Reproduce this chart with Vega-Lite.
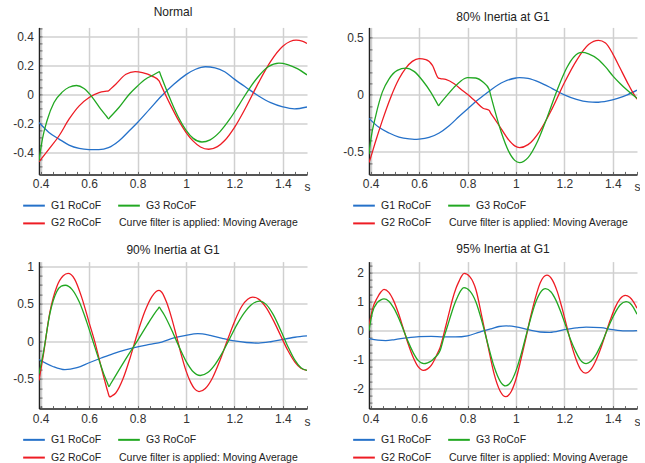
{
"$schema": "https://vega.github.io/schema/vega-lite/v6.json",
"padding": {"left": 12, "top": 5.4, "right": 0, "bottom": 0},
"config": {
 "font": "Liberation Sans",
 "view": {"stroke": null},
 "axis": {"labelFontSize": 12, "labelColor": "#333", "gridColor": "#d0d0d0", "gridWidth": 1.5, "tickColor": "#666", "tickWidth": 1, "tickSize": -3, "labelFlush": false, "labelOverlap": false, "titleFontWeight": "normal", "titleFontSize": 12, "titleColor": "#333"},
 "axisX": {"domainColor": "#555", "domainWidth": 2, "labelPadding": 16.5, "labelBaseline": "alphabetic"},
 "axisY": {"domainColor": "#222", "domainWidth": 1.5, "labelPadding": 8.7},
 "title": {"fontSize": 12, "fontWeight": "normal", "color": "#222", "offset": 3.5, "baseline": "alphabetic"}
},
"datasets": {"d": [
{"p":"N","s":"G1","t":0.393,"v":-0.195},{"p":"N","s":"G1","t":0.434,"v":-0.263},{"p":"N","s":"G1","t":0.476,"v":-0.309},{"p":"N","s":"G1","t":0.517,"v":-0.35},{"p":"N","s":"G1","t":0.559,"v":-0.373},{"p":"N","s":"G1","t":0.6,"v":-0.381},{"p":"N","s":"G1","t":0.64,"v":-0.382},{"p":"N","s":"G1","t":0.68,"v":-0.368},{"p":"N","s":"G1","t":0.724,"v":-0.32},{"p":"N","s":"G1","t":0.766,"v":-0.252},{"p":"N","s":"G1","t":0.8,"v":-0.195},{"p":"N","s":"G1","t":0.85,"v":-0.103},{"p":"N","s":"G1","t":0.9,"v":-0.011},{"p":"N","s":"G1","t":0.95,"v":0.068},{"p":"N","s":"G1","t":1,"v":0.135},{"p":"N","s":"G1","t":1.04,"v":0.172},{"p":"N","s":"G1","t":1.08,"v":0.189},{"p":"N","s":"G1","t":1.12,"v":0.182},{"p":"N","s":"G1","t":1.16,"v":0.155},{"p":"N","s":"G1","t":1.2,"v":0.104},{"p":"N","s":"G1","t":1.25,"v":0.045},{"p":"N","s":"G1","t":1.3,"v":-0.012},{"p":"N","s":"G1","t":1.35,"v":-0.058},{"p":"N","s":"G1","t":1.4,"v":-0.087},{"p":"N","s":"G1","t":1.448,"v":-0.101},{"p":"N","s":"G1","t":1.5,"v":-0.088},
{"p":"N","s":"G2","t":0.393,"v":-0.465},{"p":"N","s":"G2","t":0.434,"v":-0.378},{"p":"N","s":"G2","t":0.476,"v":-0.286},{"p":"N","s":"G2","t":0.517,"v":-0.172},{"p":"N","s":"G2","t":0.559,"v":-0.08},{"p":"N","s":"G2","t":0.6,"v":-0.023},{"p":"N","s":"G2","t":0.641,"v":0.011},{"p":"N","s":"G2","t":0.672,"v":0.021},{"p":"N","s":"G2","t":0.68,"v":0.023},{"p":"N","s":"G2","t":0.688,"v":0.035},{"p":"N","s":"G2","t":0.71,"v":0.069},{"p":"N","s":"G2","t":0.752,"v":0.137},{"p":"N","s":"G2","t":0.79,"v":0.156},{"p":"N","s":"G2","t":0.82,"v":0.149},{"p":"N","s":"G2","t":0.86,"v":0.125},{"p":"N","s":"G2","t":0.889,"v":0.092},{"p":"N","s":"G2","t":0.895,"v":0.07},{"p":"N","s":"G2","t":0.912,"v":0.009},{"p":"N","s":"G2","t":0.94,"v":-0.087},{"p":"N","s":"G2","t":0.97,"v":-0.182},{"p":"N","s":"G2","t":1,"v":-0.262},{"p":"N","s":"G2","t":1.03,"v":-0.323},{"p":"N","s":"G2","t":1.06,"v":-0.363},{"p":"N","s":"G2","t":1.094,"v":-0.379},{"p":"N","s":"G2","t":1.13,"v":-0.361},{"p":"N","s":"G2","t":1.16,"v":-0.319},{"p":"N","s":"G2","t":1.2,"v":-0.23},{"p":"N","s":"G2","t":1.25,"v":-0.083},{"p":"N","s":"G2","t":1.3,"v":0.08},{"p":"N","s":"G2","t":1.35,"v":0.226},{"p":"N","s":"G2","t":1.4,"v":0.33},{"p":"N","s":"G2","t":1.43,"v":0.363},{"p":"N","s":"G2","t":1.455,"v":0.372},{"p":"N","s":"G2","t":1.48,"v":0.366},{"p":"N","s":"G2","t":1.5,"v":0.349},
{"p":"N","s":"G3","t":0.393,"v":-0.458},{"p":"N","s":"G3","t":0.407,"v":-0.309},{"p":"N","s":"G3","t":0.428,"v":-0.172},{"p":"N","s":"G3","t":0.455,"v":-0.057},{"p":"N","s":"G3","t":0.49,"v":0.016},{"p":"N","s":"G3","t":0.517,"v":0.048},{"p":"N","s":"G3","t":0.548,"v":0.06},{"p":"N","s":"G3","t":0.579,"v":0.039},{"p":"N","s":"G3","t":0.614,"v":-0.023},{"p":"N","s":"G3","t":0.648,"v":-0.103},{"p":"N","s":"G3","t":0.674,"v":-0.157},{"p":"N","s":"G3","t":0.68,"v":-0.17},{"p":"N","s":"G3","t":0.686,"v":-0.159},{"p":"N","s":"G3","t":0.724,"v":-0.09},{"p":"N","s":"G3","t":0.766,"v":0},{"p":"N","s":"G3","t":0.8,"v":0.057},{"p":"N","s":"G3","t":0.834,"v":0.105},{"p":"N","s":"G3","t":0.865,"v":0.132},{"p":"N","s":"G3","t":0.885,"v":0.151},{"p":"N","s":"G3","t":0.89,"v":0.156},{"p":"N","s":"G3","t":0.895,"v":0.134},{"p":"N","s":"G3","t":0.912,"v":0.061},{"p":"N","s":"G3","t":0.94,"v":-0.053},{"p":"N","s":"G3","t":0.97,"v":-0.162},{"p":"N","s":"G3","t":1,"v":-0.247},{"p":"N","s":"G3","t":1.03,"v":-0.304},{"p":"N","s":"G3","t":1.066,"v":-0.329},{"p":"N","s":"G3","t":1.1,"v":-0.314},{"p":"N","s":"G3","t":1.14,"v":-0.259},{"p":"N","s":"G3","t":1.18,"v":-0.174},{"p":"N","s":"G3","t":1.22,"v":-0.071},{"p":"N","s":"G3","t":1.26,"v":0.034},{"p":"N","s":"G3","t":1.3,"v":0.124},{"p":"N","s":"G3","t":1.34,"v":0.189},{"p":"N","s":"G3","t":1.384,"v":0.214},{"p":"N","s":"G3","t":1.42,"v":0.204},{"p":"N","s":"G3","t":1.46,"v":0.176},{"p":"N","s":"G3","t":1.5,"v":0.133},
{"p":"E","s":"G1","t":0.393,"v":-0.206},{"p":"E","s":"G1","t":0.434,"v":-0.285},{"p":"E","s":"G1","t":0.476,"v":-0.335},{"p":"E","s":"G1","t":0.517,"v":-0.371},{"p":"E","s":"G1","t":0.559,"v":-0.387},{"p":"E","s":"G1","t":0.58,"v":-0.39},{"p":"E","s":"G1","t":0.6,"v":-0.388},{"p":"E","s":"G1","t":0.641,"v":-0.374},{"p":"E","s":"G1","t":0.683,"v":-0.335},{"p":"E","s":"G1","t":0.724,"v":-0.271},{"p":"E","s":"G1","t":0.766,"v":-0.188},{"p":"E","s":"G1","t":0.8,"v":-0.124},{"p":"E","s":"G1","t":0.834,"v":-0.059},{"p":"E","s":"G1","t":0.87,"v":0},{"p":"E","s":"G1","t":0.9,"v":0.05},{"p":"E","s":"G1","t":0.95,"v":0.115},{"p":"E","s":"G1","t":1,"v":0.148},{"p":"E","s":"G1","t":1.015,"v":0.152},{"p":"E","s":"G1","t":1.05,"v":0.145},{"p":"E","s":"G1","t":1.1,"v":0.108},{"p":"E","s":"G1","t":1.15,"v":0.055},{"p":"E","s":"G1","t":1.2,"v":0},{"p":"E","s":"G1","t":1.25,"v":-0.04},{"p":"E","s":"G1","t":1.3,"v":-0.062},{"p":"E","s":"G1","t":1.331,"v":-0.065},{"p":"E","s":"G1","t":1.38,"v":-0.052},{"p":"E","s":"G1","t":1.42,"v":-0.03},{"p":"E","s":"G1","t":1.46,"v":0},{"p":"E","s":"G1","t":1.5,"v":0.041},
{"p":"E","s":"G2","t":0.393,"v":-0.594},{"p":"E","s":"G2","t":0.4,"v":-0.55},{"p":"E","s":"G2","t":0.421,"v":-0.403},{"p":"E","s":"G2","t":0.448,"v":-0.226},{"p":"E","s":"G2","t":0.483,"v":-0.02},{"p":"E","s":"G2","t":0.517,"v":0.141},{"p":"E","s":"G2","t":0.545,"v":0.235},{"p":"E","s":"G2","t":0.572,"v":0.294},{"p":"E","s":"G2","t":0.6,"v":0.318},{"p":"E","s":"G2","t":0.628,"v":0.309},{"p":"E","s":"G2","t":0.655,"v":0.259},{"p":"E","s":"G2","t":0.68,"v":0.147},{"p":"E","s":"G2","t":0.688,"v":0.143},{"p":"E","s":"G2","t":0.71,"v":0.135},{"p":"E","s":"G2","t":0.745,"v":0.097},{"p":"E","s":"G2","t":0.779,"v":0.038},{"p":"E","s":"G2","t":0.814,"v":-0.02},{"p":"E","s":"G2","t":0.834,"v":-0.059},{"p":"E","s":"G2","t":0.864,"v":-0.117},{"p":"E","s":"G2","t":0.889,"v":-0.135},{"p":"E","s":"G2","t":0.895,"v":-0.158},{"p":"E","s":"G2","t":0.91,"v":-0.205},{"p":"E","s":"G2","t":0.94,"v":-0.3},{"p":"E","s":"G2","t":0.97,"v":-0.395},{"p":"E","s":"G2","t":0.995,"v":-0.448},{"p":"E","s":"G2","t":1.015,"v":-0.463},{"p":"E","s":"G2","t":1.05,"v":-0.437},{"p":"E","s":"G2","t":1.1,"v":-0.313},{"p":"E","s":"G2","t":1.15,"v":-0.119},{"p":"E","s":"G2","t":1.2,"v":0.106},{"p":"E","s":"G2","t":1.25,"v":0.301},{"p":"E","s":"G2","t":1.3,"v":0.441},{"p":"E","s":"G2","t":1.341,"v":0.478},{"p":"E","s":"G2","t":1.37,"v":0.455},{"p":"E","s":"G2","t":1.4,"v":0.36},{"p":"E","s":"G2","t":1.43,"v":0.235},{"p":"E","s":"G2","t":1.46,"v":0.11},{"p":"E","s":"G2","t":1.48,"v":0.03},{"p":"E","s":"G2","t":1.5,"v":-0.038},
{"p":"E","s":"G3","t":0.393,"v":-0.52},{"p":"E","s":"G3","t":0.4,"v":-0.4},{"p":"E","s":"G3","t":0.421,"v":-0.182},{"p":"E","s":"G3","t":0.448,"v":0.024},{"p":"E","s":"G3","t":0.476,"v":0.141},{"p":"E","s":"G3","t":0.51,"v":0.215},{"p":"E","s":"G3","t":0.545,"v":0.235},{"p":"E","s":"G3","t":0.579,"v":0.206},{"p":"E","s":"G3","t":0.614,"v":0.126},{"p":"E","s":"G3","t":0.648,"v":0.024},{"p":"E","s":"G3","t":0.674,"v":-0.072},{"p":"E","s":"G3","t":0.68,"v":-0.094},{"p":"E","s":"G3","t":0.686,"v":-0.079},{"p":"E","s":"G3","t":0.717,"v":0},{"p":"E","s":"G3","t":0.752,"v":0.082},{"p":"E","s":"G3","t":0.786,"v":0.141},{"p":"E","s":"G3","t":0.8,"v":0.152},{"p":"E","s":"G3","t":0.834,"v":0.148},{"p":"E","s":"G3","t":0.865,"v":0.11},{"p":"E","s":"G3","t":0.889,"v":0.05},{"p":"E","s":"G3","t":0.895,"v":0.002},{"p":"E","s":"G3","t":0.91,"v":-0.117},{"p":"E","s":"G3","t":0.94,"v":-0.333},{"p":"E","s":"G3","t":0.97,"v":-0.496},{"p":"E","s":"G3","t":0.995,"v":-0.575},{"p":"E","s":"G3","t":1.015,"v":-0.595},{"p":"E","s":"G3","t":1.05,"v":-0.551},{"p":"E","s":"G3","t":1.09,"v":-0.405},{"p":"E","s":"G3","t":1.13,"v":-0.191},{"p":"E","s":"G3","t":1.17,"v":0.041},{"p":"E","s":"G3","t":1.21,"v":0.238},{"p":"E","s":"G3","t":1.24,"v":0.335},{"p":"E","s":"G3","t":1.272,"v":0.372},{"p":"E","s":"G3","t":1.3,"v":0.36},{"p":"E","s":"G3","t":1.34,"v":0.31},{"p":"E","s":"G3","t":1.37,"v":0.245},{"p":"E","s":"G3","t":1.4,"v":0.167},{"p":"E","s":"G3","t":1.43,"v":0.1},{"p":"E","s":"G3","t":1.46,"v":0.04},{"p":"E","s":"G3","t":1.5,"v":-0.03},
{"p":"F","s":"G1","t":0.393,"v":-0.243},{"p":"F","s":"G1","t":0.45,"v":-0.335},{"p":"F","s":"G1","t":0.5,"v":-0.378},{"p":"F","s":"G1","t":0.55,"v":-0.35},{"p":"F","s":"G1","t":0.6,"v":-0.285},{"p":"F","s":"G1","t":0.65,"v":-0.222},{"p":"F","s":"G1","t":0.7,"v":-0.162},{"p":"F","s":"G1","t":0.75,"v":-0.112},{"p":"F","s":"G1","t":0.8,"v":-0.072},{"p":"F","s":"G1","t":0.85,"v":-0.04},{"p":"F","s":"G1","t":0.9,"v":-0.009},{"p":"F","s":"G1","t":0.95,"v":0.045},{"p":"F","s":"G1","t":1,"v":0.081},{"p":"F","s":"G1","t":1.049,"v":0.104},{"p":"F","s":"G1","t":1.1,"v":0.081},{"p":"F","s":"G1","t":1.15,"v":0.04},{"p":"F","s":"G1","t":1.2,"v":0.005},{"p":"F","s":"G1","t":1.25,"v":-0.015},{"p":"F","s":"G1","t":1.3,"v":-0.023},{"p":"F","s":"G1","t":1.35,"v":-0.005},{"p":"F","s":"G1","t":1.4,"v":0.027},{"p":"F","s":"G1","t":1.45,"v":0.055},{"p":"F","s":"G1","t":1.5,"v":0.072},
{"p":"F","s":"G2","t":0.393,"v":-0.52},{"p":"F","s":"G2","t":0.41,"v":-0.2},{"p":"F","s":"G2","t":0.438,"v":0.39},{"p":"F","s":"G2","t":0.466,"v":0.725},{"p":"F","s":"G2","t":0.493,"v":0.874},{"p":"F","s":"G2","t":0.513,"v":0.905},{"p":"F","s":"G2","t":0.54,"v":0.83},{"p":"F","s":"G2","t":0.57,"v":0.58},{"p":"F","s":"G2","t":0.6,"v":0.25},{"p":"F","s":"G2","t":0.623,"v":0},{"p":"F","s":"G2","t":0.645,"v":-0.28},{"p":"F","s":"G2","t":0.665,"v":-0.53},{"p":"F","s":"G2","t":0.677,"v":-0.67},{"p":"F","s":"G2","t":0.685,"v":-0.74},{"p":"F","s":"G2","t":0.695,"v":-0.725},{"p":"F","s":"G2","t":0.71,"v":-0.688},{"p":"F","s":"G2","t":0.74,"v":-0.499},{"p":"F","s":"G2","t":0.77,"v":-0.213},{"p":"F","s":"G2","t":0.8,"v":0.111},{"p":"F","s":"G2","t":0.83,"v":0.397},{"p":"F","s":"G2","t":0.86,"v":0.6},{"p":"F","s":"G2","t":0.877,"v":0.665},{"p":"F","s":"G2","t":0.889,"v":0.68},{"p":"F","s":"G2","t":0.9,"v":0.655},{"p":"F","s":"G2","t":0.92,"v":0.52},{"p":"F","s":"G2","t":0.94,"v":0.32},{"p":"F","s":"G2","t":0.96,"v":0.08},{"p":"F","s":"G2","t":0.98,"v":-0.17},{"p":"F","s":"G2","t":1,"v":-0.39},{"p":"F","s":"G2","t":1.02,"v":-0.55},{"p":"F","s":"G2","t":1.035,"v":-0.63},{"p":"F","s":"G2","t":1.054,"v":-0.67},{"p":"F","s":"G2","t":1.08,"v":-0.628},{"p":"F","s":"G2","t":1.11,"v":-0.484},{"p":"F","s":"G2","t":1.14,"v":-0.258},{"p":"F","s":"G2","t":1.17,"v":0.005},{"p":"F","s":"G2","t":1.2,"v":0.259},{"p":"F","s":"G2","t":1.23,"v":0.465},{"p":"F","s":"G2","t":1.255,"v":0.562},{"p":"F","s":"G2","t":1.276,"v":0.59},{"p":"F","s":"G2","t":1.3,"v":0.563},{"p":"F","s":"G2","t":1.33,"v":0.456},{"p":"F","s":"G2","t":1.36,"v":0.286},{"p":"F","s":"G2","t":1.39,"v":0.085},{"p":"F","s":"G2","t":1.42,"v":-0.116},{"p":"F","s":"G2","t":1.45,"v":-0.276},{"p":"F","s":"G2","t":1.475,"v":-0.359},{"p":"F","s":"G2","t":1.5,"v":-0.387},
{"p":"F","s":"G3","t":0.393,"v":-0.432},{"p":"F","s":"G3","t":0.41,"v":-0.17},{"p":"F","s":"G3","t":0.438,"v":0.37},{"p":"F","s":"G3","t":0.466,"v":0.66},{"p":"F","s":"G3","t":0.485,"v":0.735},{"p":"F","s":"G3","t":0.502,"v":0.748},{"p":"F","s":"G3","t":0.53,"v":0.69},{"p":"F","s":"G3","t":0.56,"v":0.52},{"p":"F","s":"G3","t":0.59,"v":0.26},{"p":"F","s":"G3","t":0.616,"v":0},{"p":"F","s":"G3","t":0.64,"v":-0.24},{"p":"F","s":"G3","t":0.66,"v":-0.43},{"p":"F","s":"G3","t":0.676,"v":-0.557},{"p":"F","s":"G3","t":0.682,"v":-0.604},{"p":"F","s":"G3","t":0.688,"v":-0.572},{"p":"F","s":"G3","t":0.72,"v":-0.4},{"p":"F","s":"G3","t":0.76,"v":-0.19},{"p":"F","s":"G3","t":0.8,"v":0.01},{"p":"F","s":"G3","t":0.84,"v":0.22},{"p":"F","s":"G3","t":0.87,"v":0.37},{"p":"F","s":"G3","t":0.884,"v":0.43},{"p":"F","s":"G3","t":0.89,"v":0.455},{"p":"F","s":"G3","t":0.896,"v":0.425},{"p":"F","s":"G3","t":0.91,"v":0.355},{"p":"F","s":"G3","t":0.94,"v":0.159},{"p":"F","s":"G3","t":0.97,"v":-0.06},{"p":"F","s":"G3","t":1,"v":-0.263},{"p":"F","s":"G3","t":1.03,"v":-0.405},{"p":"F","s":"G3","t":1.059,"v":-0.455},{"p":"F","s":"G3","t":1.09,"v":-0.416},{"p":"F","s":"G3","t":1.12,"v":-0.31},{"p":"F","s":"G3","t":1.15,"v":-0.154},{"p":"F","s":"G3","t":1.18,"v":0.032},{"p":"F","s":"G3","t":1.21,"v":0.219},{"p":"F","s":"G3","t":1.24,"v":0.376},{"p":"F","s":"G3","t":1.27,"v":0.489},{"p":"F","s":"G3","t":1.304,"v":0.536},{"p":"F","s":"G3","t":1.33,"v":0.496},{"p":"F","s":"G3","t":1.36,"v":0.359},{"p":"F","s":"G3","t":1.39,"v":0.159},{"p":"F","s":"G3","t":1.42,"v":-0.061},{"p":"F","s":"G3","t":1.45,"v":-0.251},{"p":"F","s":"G3","t":1.475,"v":-0.353},{"p":"F","s":"G3","t":1.5,"v":-0.387},
{"p":"G","s":"G1","t":0.393,"v":-0.28},{"p":"G","s":"G1","t":0.43,"v":-0.33},{"p":"G","s":"G1","t":0.462,"v":-0.345},{"p":"G","s":"G1","t":0.5,"v":-0.31},{"p":"G","s":"G1","t":0.55,"v":-0.25},{"p":"G","s":"G1","t":0.6,"v":-0.21},{"p":"G","s":"G1","t":0.65,"v":-0.2},{"p":"G","s":"G1","t":0.7,"v":-0.22},{"p":"G","s":"G1","t":0.75,"v":-0.22},{"p":"G","s":"G1","t":0.8,"v":-0.18},{"p":"G","s":"G1","t":0.85,"v":-0.05},{"p":"G","s":"G1","t":0.9,"v":0.07},{"p":"G","s":"G1","t":0.93,"v":0.14},{"p":"G","s":"G1","t":0.96,"v":0.16},{"p":"G","s":"G1","t":1,"v":0.13},{"p":"G","s":"G1","t":1.05,"v":0.03},{"p":"G","s":"G1","t":1.1,"v":-0.05},{"p":"G","s":"G1","t":1.14,"v":-0.06},{"p":"G","s":"G1","t":1.2,"v":0.03},{"p":"G","s":"G1","t":1.25,"v":0.09},{"p":"G","s":"G1","t":1.29,"v":0.12},{"p":"G","s":"G1","t":1.35,"v":0.1},{"p":"G","s":"G1","t":1.4,"v":0.03},{"p":"G","s":"G1","t":1.45,"v":-0.01},{"p":"G","s":"G1","t":1.5,"v":0},
{"p":"G","s":"G2","t":0.393,"v":0.15},{"p":"G","s":"G2","t":0.407,"v":0.73},{"p":"G","s":"G2","t":0.428,"v":1.14},{"p":"G","s":"G2","t":0.442,"v":1.33},{"p":"G","s":"G2","t":0.455,"v":1.42},{"p":"G","s":"G2","t":0.475,"v":1.317},{"p":"G","s":"G2","t":0.495,"v":1.024},{"p":"G","s":"G2","t":0.515,"v":0.586},{"p":"G","s":"G2","t":0.535,"v":0.064},{"p":"G","s":"G2","t":0.555,"v":-0.463},{"p":"G","s":"G2","t":0.575,"v":-0.913},{"p":"G","s":"G2","t":0.595,"v":-1.236},{"p":"G","s":"G2","t":0.618,"v":-1.37},{"p":"G","s":"G2","t":0.635,"v":-1.32},{"p":"G","s":"G2","t":0.65,"v":-1.2},{"p":"G","s":"G2","t":0.662,"v":-1.03},{"p":"G","s":"G2","t":0.675,"v":-0.8},{"p":"G","s":"G2","t":0.686,"v":-0.6},{"p":"G","s":"G2","t":0.698,"v":-0.25},{"p":"G","s":"G2","t":0.71,"v":0.15},{"p":"G","s":"G2","t":0.725,"v":0.65},{"p":"G","s":"G2","t":0.738,"v":1.08},{"p":"G","s":"G2","t":0.752,"v":1.45},{"p":"G","s":"G2","t":0.766,"v":1.72},{"p":"G","s":"G2","t":0.775,"v":1.87},{"p":"G","s":"G2","t":0.786,"v":1.97},{"p":"G","s":"G2","t":0.81,"v":1.85},{"p":"G","s":"G2","t":0.835,"v":1.4},{"p":"G","s":"G2","t":0.86,"v":0.45},{"p":"G","s":"G2","t":0.885,"v":-0.55},{"p":"G","s":"G2","t":0.91,"v":-1.5},{"p":"G","s":"G2","t":0.935,"v":-2.09},{"p":"G","s":"G2","t":0.958,"v":-2.28},{"p":"G","s":"G2","t":0.98,"v":-2.11},{"p":"G","s":"G2","t":1,"v":-1.68},{"p":"G","s":"G2","t":1.02,"v":-1.02},{"p":"G","s":"G2","t":1.04,"v":-0.3},{"p":"G","s":"G2","t":1.06,"v":0.46},{"p":"G","s":"G2","t":1.08,"v":1.12},{"p":"G","s":"G2","t":1.1,"v":1.64},{"p":"G","s":"G2","t":1.128,"v":1.91},{"p":"G","s":"G2","t":1.15,"v":1.75},{"p":"G","s":"G2","t":1.17,"v":1.36},{"p":"G","s":"G2","t":1.19,"v":0.79},{"p":"G","s":"G2","t":1.21,"v":0.14},{"p":"G","s":"G2","t":1.23,"v":-0.51},{"p":"G","s":"G2","t":1.25,"v":-1.03},{"p":"G","s":"G2","t":1.27,"v":-1.375},{"p":"G","s":"G2","t":1.287,"v":-1.47},{"p":"G","s":"G2","t":1.31,"v":-1.34},{"p":"G","s":"G2","t":1.33,"v":-1.04},{"p":"G","s":"G2","t":1.35,"v":-0.62},{"p":"G","s":"G2","t":1.37,"v":-0.12},{"p":"G","s":"G2","t":1.39,"v":0.37},{"p":"G","s":"G2","t":1.41,"v":0.8},{"p":"G","s":"G2","t":1.43,"v":1.09},{"p":"G","s":"G2","t":1.452,"v":1.21},{"p":"G","s":"G2","t":1.47,"v":1.15},{"p":"G","s":"G2","t":1.485,"v":1},{"p":"G","s":"G2","t":1.5,"v":0.77},
{"p":"G","s":"G3","t":0.393,"v":0},{"p":"G","s":"G3","t":0.407,"v":0.62},{"p":"G","s":"G3","t":0.428,"v":0.97},{"p":"G","s":"G3","t":0.442,"v":1.06},{"p":"G","s":"G3","t":0.455,"v":1.09},{"p":"G","s":"G3","t":0.475,"v":1.01},{"p":"G","s":"G3","t":0.495,"v":0.78},{"p":"G","s":"G3","t":0.515,"v":0.44},{"p":"G","s":"G3","t":0.535,"v":0.03},{"p":"G","s":"G3","t":0.555,"v":-0.39},{"p":"G","s":"G3","t":0.575,"v":-0.75},{"p":"G","s":"G3","t":0.595,"v":-1.02},{"p":"G","s":"G3","t":0.62,"v":-1.14},{"p":"G","s":"G3","t":0.635,"v":-1.11},{"p":"G","s":"G3","t":0.65,"v":-1.05},{"p":"G","s":"G3","t":0.665,"v":-0.93},{"p":"G","s":"G3","t":0.676,"v":-0.84},{"p":"G","s":"G3","t":0.688,"v":-0.66},{"p":"G","s":"G3","t":0.7,"v":-0.3},{"p":"G","s":"G3","t":0.717,"v":0.15},{"p":"G","s":"G3","t":0.73,"v":0.5},{"p":"G","s":"G3","t":0.745,"v":0.88},{"p":"G","s":"G3","t":0.76,"v":1.18},{"p":"G","s":"G3","t":0.772,"v":1.38},{"p":"G","s":"G3","t":0.785,"v":1.48},{"p":"G","s":"G3","t":0.81,"v":1.36},{"p":"G","s":"G3","t":0.835,"v":0.98},{"p":"G","s":"G3","t":0.86,"v":0.3},{"p":"G","s":"G3","t":0.885,"v":-0.5},{"p":"G","s":"G3","t":0.91,"v":-1.25},{"p":"G","s":"G3","t":0.935,"v":-1.75},{"p":"G","s":"G3","t":0.958,"v":-1.91},{"p":"G","s":"G3","t":0.98,"v":-1.76},{"p":"G","s":"G3","t":1,"v":-1.39},{"p":"G","s":"G3","t":1.02,"v":-0.86},{"p":"G","s":"G3","t":1.04,"v":-0.23},{"p":"G","s":"G3","t":1.06,"v":0.39},{"p":"G","s":"G3","t":1.08,"v":0.94},{"p":"G","s":"G3","t":1.1,"v":1.3},{"p":"G","s":"G3","t":1.122,"v":1.445},{"p":"G","s":"G3","t":1.145,"v":1.33},{"p":"G","s":"G3","t":1.165,"v":1.05},{"p":"G","s":"G3","t":1.185,"v":0.65},{"p":"G","s":"G3","t":1.205,"v":0.18},{"p":"G","s":"G3","t":1.225,"v":-0.3},{"p":"G","s":"G3","t":1.245,"v":-0.69},{"p":"G","s":"G3","t":1.265,"v":-1},{"p":"G","s":"G3","t":1.29,"v":-1.14},{"p":"G","s":"G3","t":1.31,"v":-1.06},{"p":"G","s":"G3","t":1.33,"v":-0.84},{"p":"G","s":"G3","t":1.35,"v":-0.51},{"p":"G","s":"G3","t":1.37,"v":-0.12},{"p":"G","s":"G3","t":1.39,"v":0.28},{"p":"G","s":"G3","t":1.41,"v":0.62},{"p":"G","s":"G3","t":1.43,"v":0.88},{"p":"G","s":"G3","t":1.455,"v":1},{"p":"G","s":"G3","t":1.47,"v":0.95},{"p":"G","s":"G3","t":1.485,"v":0.8},{"p":"G","s":"G3","t":1.5,"v":0.56}
]},
"columns": 2,
"spacing": {"row": 13.2, "column": 32},
"resolve": {"scale": {"x": "independent", "y": "independent", "color": "independent"}, "legend": {"color": "independent"}},
"concat": [
{
 "title": {"text": "Normal"},
 "width": 268, "height": 147,
 "data": {"name": "d"},
 "transform": [{"filter": "datum.p == 'N'"}],
 "mark": {"type": "line", "interpolate": "monotone", "strokeWidth": 1.3, "clip": true},
 "encoding": {
  "x": {"field": "t", "type": "quantitative", "scale": {"domain": [0.393, 1.5], "nice": false, "zero": false},
   "axis": {"values": [0.4,0.45,0.5,0.55,0.6,0.65,0.7,0.75,0.8,0.85,0.9,0.95,1,1.05,1.1,1.15,1.2,1.25,1.3,1.35,1.4,1.45,1.5],
    "labelExpr": "abs(datum.value*5-round(datum.value*5))<0.001 ? format(datum.value,'.1~f') : ''",
    "gridOpacity": {"condition": {"test": "abs(datum.value*5-round(datum.value*5))>0.001", "value": 0}, "value": 1},
    "title": "s", "titleX": 268, "titleY": 16.5, "titleAlign": "center", "titleBaseline": "alphabetic"}},
  "y": {"field": "v", "type": "quantitative", "scale": {"domain": [-0.552, 0.46], "nice": false, "zero": false},
   "axis": {"values": [-0.55,-0.5,-0.45,-0.4,-0.35,-0.3,-0.25,-0.2,-0.15,-0.1,-0.05,0,0.05,0.1,0.15,0.2,0.25,0.3,0.35,0.4,0.45],
    "labelExpr": "abs(datum.value*5-round(datum.value*5))<0.001 ? (datum.value < -0.001 ? '-' + format(-datum.value,'.1~f') : format(abs(datum.value),'.1~f')) : ''",
    "gridOpacity": {"condition": {"test": "abs(datum.value*5-round(datum.value*5))>0.001", "value": 0}, "value": 1},
    "title": null}},
  "color": {"field": "s", "type": "nominal",
   "scale": {"domain": ["G1","G2","G3","note"], "range": ["#2571c9","#ee1c24","#22a822","transparent"]},
   "legend": {"orient": "none", "legendX": -17, "legendY": 166, "columns": 2, "title": null, "symbolType": "stroke", "symbolSize": 470, "symbolStrokeWidth": 2, "labelFontSize": 10.5, "labelFont": "Liberation Sans", "labelColor": "#222", "labelOffset": 5, "labelLimit": 400, "columnPadding": 12, "rowPadding": -6.2, "padding": 0,
    "labelExpr": "datum.value == 'note' ? 'Curve filter is applied: Moving Average' : datum.value + ' RoCoF'",
    "encode": {"labels": {"update": {"dx": {"signal": "datum.value == 'note' ? -27 : 0"}}}}}}
 }
},
{
 "title": {"text": "80% Inertia at G1"},
 "width": 268, "height": 147,
 "data": {"name": "d"},
 "transform": [{"filter": "datum.p == 'E'"}],
 "mark": {"type": "line", "interpolate": "monotone", "strokeWidth": 1.3, "clip": true},
 "encoding": {
  "x": {"field": "t", "type": "quantitative", "scale": {"domain": [0.393, 1.5], "nice": false, "zero": false},
   "axis": {"values": [0.4,0.45,0.5,0.55,0.6,0.65,0.7,0.75,0.8,0.85,0.9,0.95,1,1.05,1.1,1.15,1.2,1.25,1.3,1.35,1.4,1.45,1.5],
    "labelExpr": "abs(datum.value*5-round(datum.value*5))<0.001 ? format(datum.value,'.1~f') : ''",
    "gridOpacity": {"condition": {"test": "abs(datum.value*5-round(datum.value*5))>0.001", "value": 0}, "value": 1},
    "title": "s", "titleX": 268, "titleY": 16.5, "titleAlign": "center", "titleBaseline": "alphabetic"}},
  "y": {"field": "v", "type": "quantitative", "scale": {"domain": [-0.698, 0.592], "nice": false, "zero": false},
   "axis": {"values": [-0.6,-0.5,-0.4,-0.3,-0.2,-0.1,0,0.1,0.2,0.3,0.4,0.5],
    "labelExpr": "abs(datum.value*2-round(datum.value*2))<0.001 ? (datum.value < -0.001 ? '-' + format(-datum.value,'.1~f') : format(abs(datum.value),'.1~f')) : ''",
    "gridOpacity": {"condition": {"test": "abs(datum.value*2-round(datum.value*2))>0.001", "value": 0}, "value": 1},
    "title": null}},
  "color": {"field": "s", "type": "nominal",
   "scale": {"domain": ["G1","G2","G3","note"], "range": ["#2571c9","#ee1c24","#22a822","transparent"]},
   "legend": {"orient": "none", "legendX": -17, "legendY": 166, "columns": 2, "title": null, "symbolType": "stroke", "symbolSize": 470, "symbolStrokeWidth": 2, "labelFontSize": 10.5, "labelFont": "Liberation Sans", "labelColor": "#222", "labelOffset": 5, "labelLimit": 400, "columnPadding": 12, "rowPadding": -6.2, "padding": 0,
    "labelExpr": "datum.value == 'note' ? 'Curve filter is applied: Moving Average' : datum.value + ' RoCoF'",
    "encode": {"labels": {"update": {"dx": {"signal": "datum.value == 'note' ? -27 : 0"}}}}}}
 }
},
{
 "title": {"text": "90% Inertia at G1"},
 "width": 268, "height": 147,
 "data": {"name": "d"},
 "transform": [{"filter": "datum.p == 'F'"}],
 "mark": {"type": "line", "interpolate": "monotone", "strokeWidth": 1.3, "clip": true},
 "encoding": {
  "x": {"field": "t", "type": "quantitative", "scale": {"domain": [0.393, 1.5], "nice": false, "zero": false},
   "axis": {"values": [0.4,0.45,0.5,0.55,0.6,0.65,0.7,0.75,0.8,0.85,0.9,0.95,1,1.05,1.1,1.15,1.2,1.25,1.3,1.35,1.4,1.45,1.5],
    "labelExpr": "abs(datum.value*5-round(datum.value*5))<0.001 ? format(datum.value,'.1~f') : ''",
    "gridOpacity": {"condition": {"test": "abs(datum.value*5-round(datum.value*5))>0.001", "value": 0}, "value": 1},
    "title": "s", "titleX": 268, "titleY": 16.5, "titleAlign": "center", "titleBaseline": "alphabetic"}},
  "y": {"field": "v", "type": "quantitative", "scale": {"domain": [-0.896, 1.063], "nice": false, "zero": false},
   "axis": {"values": [-0.875,-0.75,-0.625,-0.5,-0.375,-0.25,-0.125,0,0.125,0.25,0.375,0.5,0.625,0.75,0.875,1],
    "labelExpr": "abs(datum.value*2-round(datum.value*2))<0.001 ? (datum.value < -0.001 ? '-' + format(-datum.value,'.1~f') : format(abs(datum.value),'.1~f')) : ''",
    "gridOpacity": {"condition": {"test": "abs(datum.value*2-round(datum.value*2))>0.001", "value": 0}, "value": 1},
    "title": null}},
  "color": {"field": "s", "type": "nominal",
   "scale": {"domain": ["G1","G2","G3","note"], "range": ["#2571c9","#ee1c24","#22a822","transparent"]},
   "legend": {"orient": "none", "legendX": -17, "legendY": 166, "columns": 2, "title": null, "symbolType": "stroke", "symbolSize": 470, "symbolStrokeWidth": 2, "labelFontSize": 10.5, "labelFont": "Liberation Sans", "labelColor": "#222", "labelOffset": 5, "labelLimit": 400, "columnPadding": 12, "rowPadding": -6.2, "padding": 0,
    "labelExpr": "datum.value == 'note' ? 'Curve filter is applied: Moving Average' : datum.value + ' RoCoF'",
    "encode": {"labels": {"update": {"dx": {"signal": "datum.value == 'note' ? -27 : 0"}}}}}}
 }
},
{
 "title": {"text": "95% Inertia at G1"},
 "width": 268, "height": 147,
 "data": {"name": "d"},
 "transform": [{"filter": "datum.p == 'G'"}],
 "mark": {"type": "line", "interpolate": "monotone", "strokeWidth": 1.3, "clip": true},
 "encoding": {
  "x": {"field": "t", "type": "quantitative", "scale": {"domain": [0.393, 1.5], "nice": false, "zero": false},
   "axis": {"values": [0.4,0.45,0.5,0.55,0.6,0.65,0.7,0.75,0.8,0.85,0.9,0.95,1,1.05,1.1,1.15,1.2,1.25,1.3,1.35,1.4,1.45,1.5],
    "labelExpr": "abs(datum.value*5-round(datum.value*5))<0.001 ? format(datum.value,'.1~f') : ''",
    "gridOpacity": {"condition": {"test": "abs(datum.value*5-round(datum.value*5))>0.001", "value": 0}, "value": 1},
    "title": "s", "titleX": 268, "titleY": 16.5, "titleAlign": "center", "titleBaseline": "alphabetic"}},
  "y": {"field": "v", "type": "quantitative", "scale": {"domain": [-2.69, 2.378], "nice": false, "zero": false},
   "axis": {"values": [-2.5,-2.25,-2,-1.75,-1.5,-1.25,-1,-0.75,-0.5,-0.25,0,0.25,0.5,0.75,1,1.25,1.5,1.75,2,2.25],
    "labelExpr": "abs(datum.value-round(datum.value))<0.001 ? (datum.value < -0.001 ? '-' + format(-datum.value,'.1~f') : format(abs(datum.value),'.1~f')) : ''",
    "gridOpacity": {"condition": {"test": "abs(datum.value-round(datum.value))>0.001", "value": 0}, "value": 1},
    "title": null}},
  "color": {"field": "s", "type": "nominal",
   "scale": {"domain": ["G1","G2","G3","note"], "range": ["#2571c9","#ee1c24","#22a822","transparent"]},
   "legend": {"orient": "none", "legendX": -17, "legendY": 166, "columns": 2, "title": null, "symbolType": "stroke", "symbolSize": 470, "symbolStrokeWidth": 2, "labelFontSize": 10.5, "labelFont": "Liberation Sans", "labelColor": "#222", "labelOffset": 5, "labelLimit": 400, "columnPadding": 12, "rowPadding": -6.2, "padding": 0,
    "labelExpr": "datum.value == 'note' ? 'Curve filter is applied: Moving Average' : datum.value + ' RoCoF'",
    "encode": {"labels": {"update": {"dx": {"signal": "datum.value == 'note' ? -27 : 0"}}}}}}
 }
}
]
}
